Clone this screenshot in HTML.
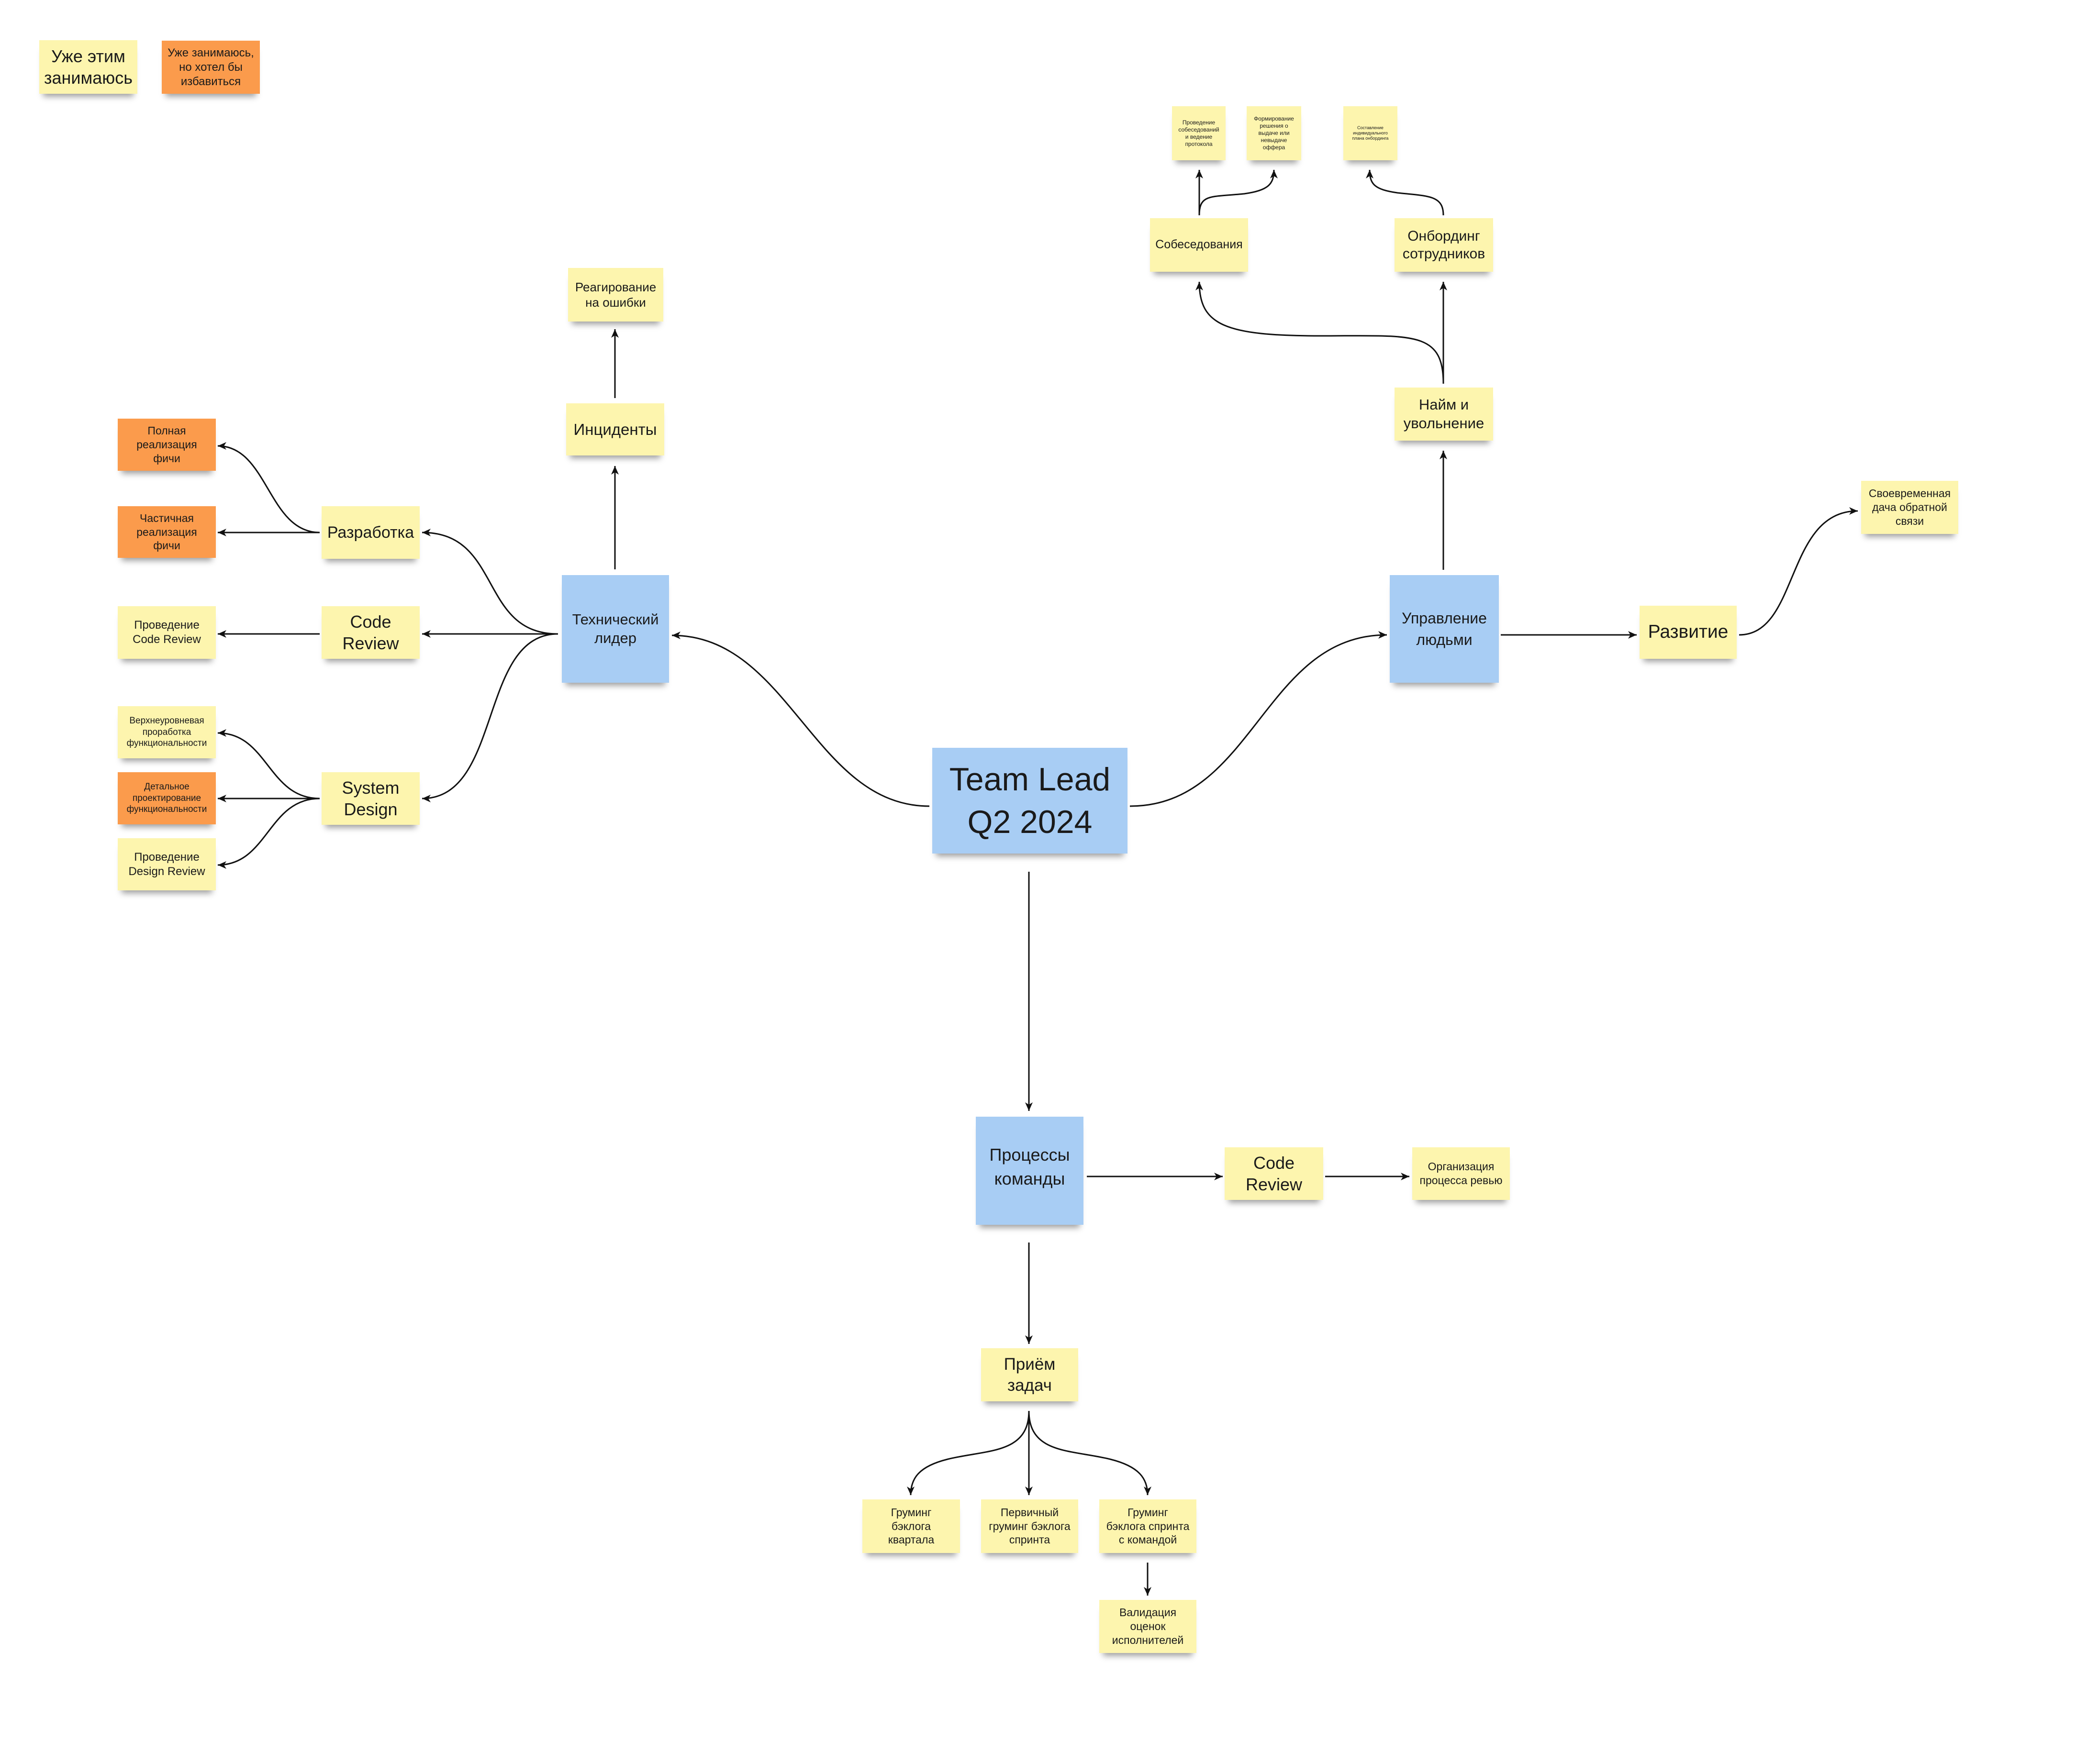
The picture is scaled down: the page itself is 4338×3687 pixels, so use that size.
<!DOCTYPE html>
<html><head><meta charset="utf-8"><style>
html,body{margin:0;padding:0;background:#fff;}
body{width:4338px;height:3687px;position:relative;overflow:hidden;font-family:"Liberation Sans","DejaVu Sans",sans-serif;color:#1a1a1a;}
.n{position:absolute;display:flex;align-items:center;justify-content:center;text-align:center;box-sizing:border-box;box-shadow:0 14px 12px -8px rgba(0,0,0,0.38);line-height:1.25;padding:4px;}
.y{background:#fdf5ae;}
.o{background:#fb9b4c;}
.b{background:#a8cdf4;}
svg{position:absolute;left:0;top:0;}
</style></head><body>
<svg width="4338" height="3687" viewBox="0 0 4338 3687">
<defs><marker id="a" markerUnits="userSpaceOnUse" markerWidth="24" markerHeight="24" refX="20" refY="10" orient="auto"><path d="M2,2 L20,10 L2,18 L7,10 Z" fill="#111"/></marker></defs>
<g fill="none" stroke="#111" stroke-width="3" marker-end="url(#a)">
<path d="M1166 1325 C1000 1325,1050 1113,882 1113"/>
<path d="M1166 1325 L882 1325"/>
<path d="M1166 1325 C1000 1325,1050 1669,882 1669"/>
<path d="M668 1113 C560 1113,560 932,455 932"/>
<path d="M668 1113 L455 1113"/>
<path d="M668 1325 L455 1325"/>
<path d="M668 1669 C560 1669,560 1532,455 1532"/>
<path d="M668 1669 L455 1669"/>
<path d="M668 1669 C560 1669,560 1808,455 1808"/>
<path d="M1942 1685 C1700 1685,1650 1328,1404 1328"/>
<path d="M2361 1685 C2620 1685,2640 1327,2898 1327"/>
<path d="M1285 1190 L1285 974"/>
<path d="M1285 832 L1285 688"/>
<path d="M3016 1191 L3016 942"/>
<path d="M3016 802 L3016 589"/>
<path d="M3016 802 C3016 690,2950 702,2760 702 C2560 702,2506 680,2506 589"/>
<path d="M2506 450 L2506 355"/>
<path d="M2506 450 C2506 405,2530 412,2600 405 C2650 398,2662 385,2662 355"/>
<path d="M3016 450 C3016 408,2985 410,2920 403 C2872 396,2862 385,2862 355"/>
<path d="M3136 1327 L3420 1327"/>
<path d="M3634 1327 C3760 1327,3730 1068,3882 1068"/>
<path d="M2150 1822 L2150 2322"/>
<path d="M2271 2459 L2555 2459"/>
<path d="M2769 2459 L2945 2459"/>
<path d="M2150 2597 L2150 2809"/>
<path d="M2150 2949 L2150 3125"/>
<path d="M2150 2949 C2150 3040,2060 3030,1980 3050 C1920 3065,1903 3090,1903 3125"/>
<path d="M2150 2949 C2150 3040,2240 3030,2320 3050 C2380 3065,2398 3090,2398 3125"/>
<path d="M2398 3266 L2398 3335"/>
</g>
</svg>

<div class="n y" style="left:82px;top:84px;width:205px;height:112px;font-size:36px;">Уже этим<br>занимаюсь</div>
<div class="n o" style="left:338px;top:85px;width:205px;height:111px;font-size:24px;">Уже занимаюсь,<br>но хотел бы<br>избавиться</div>

<div class="n b" style="left:1948px;top:1563px;width:408px;height:221px;font-size:68px;line-height:1.3;">Team Lead<br>Q2 2024</div>

<div class="n b" style="left:1174px;top:1202px;width:224px;height:225px;font-size:31px;">Технический<br>лидер</div>
<div class="n y" style="left:1183px;top:843px;width:205px;height:109px;font-size:33px;">Инциденты</div>
<div class="n y" style="left:1187px;top:560px;width:199px;height:112px;font-size:26px;">Реагирование<br>на ошибки</div>

<div class="n y" style="left:672px;top:1058px;width:205px;height:110px;font-size:34px;">Разработка</div>
<div class="n y" style="left:672px;top:1267px;width:205px;height:110px;font-size:36px;">Code<br>Review</div>
<div class="n y" style="left:672px;top:1614px;width:205px;height:110px;font-size:36px;">System<br>Design</div>

<div class="n o" style="left:246px;top:875px;width:205px;height:109px;font-size:23px;">Полная<br>реализация<br>фичи</div>
<div class="n o" style="left:246px;top:1058px;width:205px;height:108px;font-size:23px;">Частичная<br>реализация<br>фичи</div>
<div class="n y" style="left:246px;top:1267px;width:205px;height:110px;font-size:24px;">Проведение<br>Code Review</div>
<div class="n y" style="left:246px;top:1476px;width:205px;height:109px;font-size:19px;">Верхнеуровневая<br>проработка<br>функциональности</div>
<div class="n o" style="left:246px;top:1614px;width:205px;height:109px;font-size:19px;">Детальное<br>проектирование<br>функциональности</div>
<div class="n y" style="left:246px;top:1752px;width:205px;height:109px;font-size:24px;">Проведение<br>Design Review</div>

<div class="n b" style="left:2904px;top:1202px;width:228px;height:225px;font-size:32px;line-height:1.4;">Управление<br>людьми</div>
<div class="n y" style="left:2914px;top:810px;width:206px;height:111px;font-size:31px;">Найм и<br>увольнение</div>
<div class="n y" style="left:2403px;top:456px;width:205px;height:112px;font-size:25px;">Собеседования</div>
<div class="n y" style="left:2914px;top:456px;width:206px;height:112px;font-size:30px;">Онбординг<br>сотрудников</div>
<div class="n y" style="left:2449px;top:222px;width:112px;height:113px;font-size:12px;">Проведение<br>собеседований<br>и ведение<br>протокола</div>
<div class="n y" style="left:2605px;top:222px;width:114px;height:113px;font-size:12px;">Формирование<br>решения о<br>выдаче или<br>невыдаче<br>оффера</div>
<div class="n y" style="left:2807px;top:222px;width:113px;height:113px;font-size:9px;">Составление<br>индивидуального<br>плана онбординга</div>
<div class="n y" style="left:3426px;top:1266px;width:203px;height:111px;font-size:39px;">Развитие</div>
<div class="n y" style="left:3889px;top:1005px;width:203px;height:111px;font-size:23px;">Своевременная<br>дача обратной<br>связи</div>

<div class="n b" style="left:2039px;top:2334px;width:225px;height:226px;font-size:36px;line-height:1.4;padding-bottom:20px;">Процессы<br>команды</div>
<div class="n y" style="left:2559px;top:2398px;width:206px;height:110px;font-size:36px;">Code<br>Review</div>
<div class="n y" style="left:2951px;top:2398px;width:204px;height:110px;font-size:23px;">Организация<br>процесса ревью</div>
<div class="n y" style="left:2050px;top:2818px;width:203px;height:111px;font-size:35px;">Приём<br>задач</div>
<div class="n y" style="left:1802px;top:3134px;width:204px;height:112px;font-size:23px;">Груминг<br>бэклога<br>квартала</div>
<div class="n y" style="left:2050px;top:3134px;width:203px;height:112px;font-size:23px;">Первичный<br>груминг бэклога<br>спринта</div>
<div class="n y" style="left:2297px;top:3134px;width:203px;height:112px;font-size:23px;">Груминг<br>бэклога спринта<br>с командой</div>
<div class="n y" style="left:2297px;top:3344px;width:203px;height:111px;font-size:23px;">Валидация<br>оценок<br>исполнителей</div>
</body></html>
